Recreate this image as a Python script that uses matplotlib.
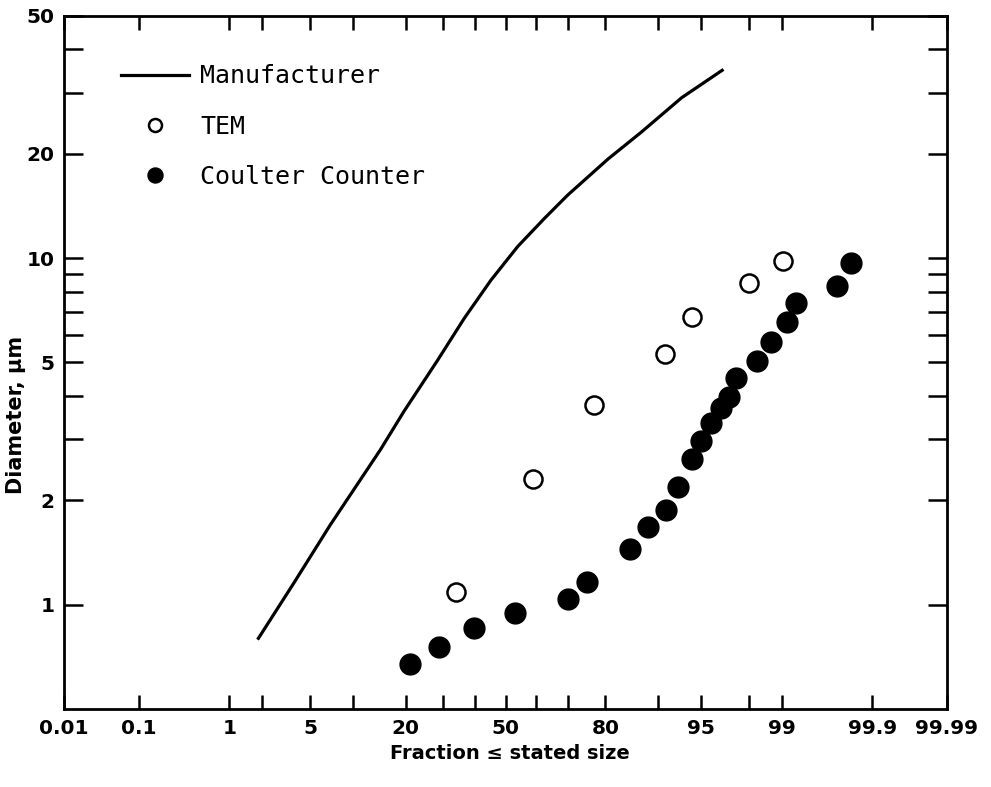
import math
import numpy as np
import matplotlib
matplotlib.use('Agg')
import matplotlib.pyplot as plt
from matplotlib.ticker import FixedLocator, FixedFormatter, NullLocator

# cumulative percent (fraction <= stated size) vs. diameter in micrometres
maker_pct = [1.87, 3.7, 7.0, 14.6, 19.6, 28.3, 36.4, 45.1, 54.1, 62.8, 70.0, 80.6, 87.4, 93.1, 96.6]
maker_diam = [0.80, 1.15, 1.70, 2.80, 3.61, 5.06, 6.70, 8.63, 10.8, 13.0, 15.2, 19.3, 23.1, 29.0, 34.8]

tem_pct = [33.8, 59.2, 77.2, 91.0, 94.2, 98.0, 99.03]
tem_diam = [1.09, 2.31, 3.78, 5.27, 6.78, 8.50, 9.8]

coulter_pct = [21.0, 28.8, 39.5, 53.2, 70.1, 75.4, 85.3, 88.5, 91.2, 92.7, 94.2,
               95.0, 95.8, 96.5, 97.0, 97.4, 98.3, 98.74, 99.12, 99.28, 99.74, 99.82]
coulter_diam = [0.676, 0.757, 0.858, 0.948, 1.04, 1.165, 1.45, 1.68, 1.88, 2.18, 2.64,
                2.97, 3.35, 3.70, 3.98, 4.52, 5.06, 5.74, 6.56, 7.44, 8.33, 9.70]

x_ticks = [0.01, 0.1, 1, 2, 5, 10, 20, 30, 40, 50, 60, 70, 80, 90, 95, 98, 99, 99.9, 99.99]
x_labels = ['0.01', '0.1', '1', '', '5', '', '20', '', '', '50', '', '', '80', '', '95', '',
            '99', '99.9', '99.99']
y_ticks = [1, 2, 3, 4, 5, 6, 7, 8, 9, 10, 20, 30, 40, 50]
y_labels = ['1', '2', '', '', '5', '', '', '', '', '10', '20', '', '', '50']


# normal probability axis: inverse normal CDF (Acklam's approximation)
_a = [-3.969683028665376e+01, 2.209460984245205e+02, -2.759285104469687e+02,
      1.383577518672690e+02, -3.066479806614716e+01, 2.506628277459239e+00]
_b = [-5.447609879822406e+01, 1.615858368580409e+02, -1.556989798598866e+02,
      6.680131188771972e+01, -1.328068155288572e+01]
_c = [-7.784894002430293e-03, -3.223964580411365e-01, -2.400758277161838e+00,
      -2.549732539343734e+00, 4.374664141464968e+00, 2.938163982698783e+00]
_d = [7.784695709041462e-03, 3.224671290700398e-01, 2.445134137142996e+00,
      3.754408661907416e+00]


def ppf(q):
    q = np.atleast_1d(np.asarray(q, dtype=float))
    z = np.full_like(q, np.nan)
    plow = 0.02425
    lo = q < plow
    hi = q > 1 - plow
    mid = ~(lo | hi) & np.isfinite(q)
    if lo.any():
        t = np.sqrt(-2 * np.log(q[lo]))
        z[lo] = ((((( _c[0]*t + _c[1])*t + _c[2])*t + _c[3])*t + _c[4])*t + _c[5]) / \
                ((((_d[0]*t + _d[1])*t + _d[2])*t + _d[3])*t + 1)
    if hi.any():
        t = np.sqrt(-2 * np.log(1 - q[hi]))
        z[hi] = -((((( _c[0]*t + _c[1])*t + _c[2])*t + _c[3])*t + _c[4])*t + _c[5]) / \
                ((((_d[0]*t + _d[1])*t + _d[2])*t + _d[3])*t + 1)
    if mid.any():
        u = q[mid] - 0.5
        r = u * u
        z[mid] = (((((_a[0]*r + _a[1])*r + _a[2])*r + _a[3])*r + _a[4])*r + _a[5]) * u / \
                 (((((_b[0]*r + _b[1])*r + _b[2])*r + _b[3])*r + _b[4])*r + 1)
    return z


_erf = np.vectorize(math.erf)


def prob_forward(p):
    p = np.asarray(p, dtype=float)
    q = np.clip(p / 100.0, 1e-9, 1 - 1e-9)
    return ppf(q).reshape(p.shape)


def prob_inverse(z):
    z = np.asarray(z, dtype=float)
    return 50.0 * (1.0 + _erf(z / math.sqrt(2.0)))


fig = plt.figure(figsize=(9.91, 7.87), dpi=100)
ax = fig.add_axes([0.0646, 0.099, 0.891, 0.881])
ax.set_xscale('function', functions=(prob_forward, prob_inverse))
ax.set_yscale('log')

maker_line, = ax.plot(maker_pct, maker_diam, color='black', lw=2.3,
                      label='Manufacturer')
tem_pts, = ax.plot(tem_pct, tem_diam, 'o', ls='none', mfc='white', mec='black',
                   mew=1.8, ms=13, label='TEM')
coulter_pts, = ax.plot(coulter_pct, coulter_diam, 'o', ls='none', color='black',
                       ms=15, label='Coulter Counter')

ax.set_xlim(0.01, 99.99)
ax.set_ylim(0.5, 50)

ax.xaxis.set_major_locator(FixedLocator(x_ticks))
ax.xaxis.set_major_formatter(FixedFormatter(x_labels))
ax.xaxis.set_minor_locator(NullLocator())
ax.yaxis.set_major_locator(FixedLocator(y_ticks))
ax.yaxis.set_major_formatter(FixedFormatter(y_labels))
ax.yaxis.set_minor_locator(NullLocator())

ax.tick_params(axis='x', direction='in', top=True, bottom=True, length=10,
               width=1.8, labelsize=14.5, pad=7)
ax.tick_params(axis='y', direction='in', left=True, right=True, length=14,
               width=1.8, labelsize=14.5, pad=7)
for lab in ax.get_xticklabels() + ax.get_yticklabels():
    lab.set_fontweight('bold')
for sp in ax.spines.values():
    sp.set_linewidth(2.0)

ax.set_xlabel('Fraction \u2264 stated size', fontsize=14, fontweight='bold')
ax.xaxis.set_label_coords(0.505, -0.05)
ax.set_ylabel('Diameter, \u03bcm', fontsize=15, fontweight='bold')
ax.yaxis.set_label_coords(-0.043, 0.424)

ax.legend(handles=[maker_line, tem_pts, coulter_pts], loc='upper left',
          bbox_to_anchor=(0.065, 0.93), frameon=False, borderpad=0,
          borderaxespad=0, handlelength=2.7, handletextpad=0.45,
          labelspacing=1.05, markerscale=0.72,
          prop={'family': 'DejaVu Sans Mono', 'size': 18})

fig.savefig('out.png', dpi=100)
plt.close(fig)
